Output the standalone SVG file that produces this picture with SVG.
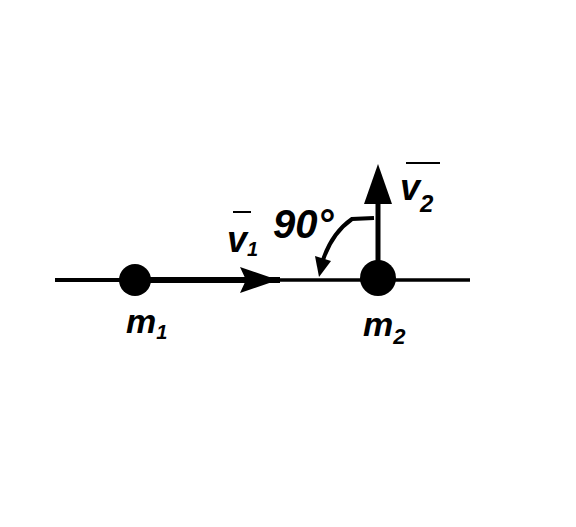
<svg xmlns="http://www.w3.org/2000/svg" width="576" height="527" viewBox="0 0 576 527">
<style>
.t{font-family:"Liberation Sans",Arial,sans-serif;font-style:italic;font-weight:bold;fill:#000}
.ln{stroke:#000;fill:none}
</style>
<rect width="576" height="527" fill="#fff"/>
<g id="connectors">
<line class="ln" x1="55" y1="280" x2="135" y2="280" stroke-width="4"/>
<line class="ln" x1="135" y1="280" x2="280" y2="280" stroke-width="6"/>
<line class="ln" x1="275" y1="280" x2="470" y2="280" stroke-width="3.5"/>
<path d="M240,267 L278,280 L240,293 L246,280 Z" fill="#000"/>
<line class="ln" x1="378" y1="278" x2="378" y2="200" stroke-width="5"/>
<path d="M378,164 L392,204 L364,204 Z" fill="#000"/>
<path class="ln" d="M374,218 L352,219 Q332,233 323,260" stroke-width="4"/>
<path d="M315,256 L331,261 L319,277 Z" fill="#000"/>
</g>
<g id="m1">
<circle cx="135" cy="280" r="16" fill="#000"/>
<text class="t" x="126" y="333" font-size="34">m<tspan font-size="20" dy="6">1</tspan></text>
</g>
<g id="m2">
<circle cx="378" cy="278" r="18" fill="#000"/>
<text class="t" x="363" y="336" font-size="34">m<tspan font-size="22" dy="8">2</tspan></text>
</g>
<g id="v1">
<line class="ln" x1="233" y1="212" x2="251" y2="212" stroke-width="2"/>
<text class="t" x="227" y="252" font-size="36">v<tspan font-size="20" dy="4">1</tspan></text>
</g>
<g id="angle">
<text class="t" x="273" y="238" font-size="40">90°</text>
</g>
<g id="v2">
<line class="ln" x1="406" y1="163" x2="440" y2="163" stroke-width="2"/>
<text class="t" x="400" y="200" font-size="36">v<tspan font-size="24" dy="12">2</tspan></text>
</g>
</svg>
